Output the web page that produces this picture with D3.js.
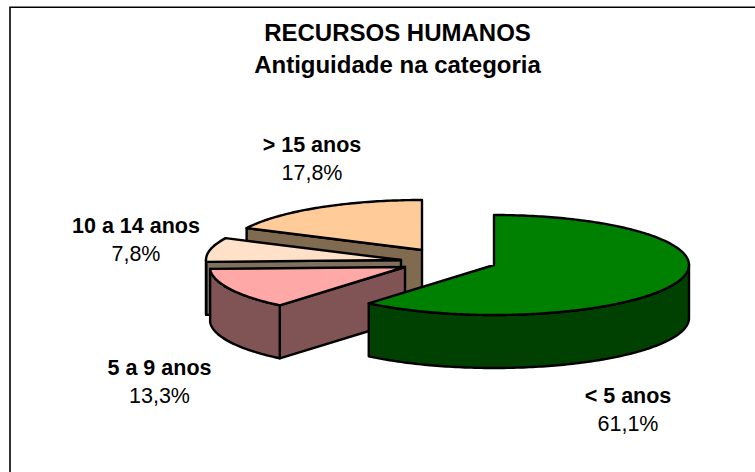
<!DOCTYPE html>
<html><head><meta charset="utf-8">
<script src="https://cdn.jsdelivr.net/npm/d3@7/dist/d3.min.js"></script>
<style>html,body{margin:0;padding:0;background:#fff}svg{display:block}text{font-family:"Liberation Sans",Arial,sans-serif;fill:#000}</style>
</head><body><svg id="c" width="755" height="472"></svg>
<script>
const categories = ["< 5 anos","5 a 9 anos","10 a 14 anos","> 15 anos"];
const values = [61.1,13.3,7.8,17.8];
const valueLabels = ["61,1%","13,3%","7,8%","17,8%"];
const topColors = ["#008000","#ffa8a8","#ffe0c8","#ffcc99"];
const wallColors = ["#004000","#805454","#807060","#806a50"];
const centers = [[494,265],[405,267],[401,260],[422,250]];
const labelPos = [[628,396],[159.5,368],[136,226],[312,145]];

const rx=195, ry=50, depth=53;
const svg=d3.select("#c");
svg.append("path").attr("d","M10,472V7.3H755").attr("fill","none").attr("stroke","#000").attr("stroke-width",1.6);

const title=svg.append("text").attr("text-anchor","middle").attr("font-weight","bold").attr("font-size",24);
title.append("tspan").attr("x",397.5).attr("y",41).text("RECURSOS HUMANOS");
title.append("tspan").attr("x",397.5).attr("y",72.5).text("Antiguidade na categoria");

const arcs=d3.pie().sort(null).value(d=>d)(values);
const pts=(a,c,dy=0)=>[c[0]+rx*Math.sin(a),c[1]-ry*Math.cos(a)+dy];
const line=d3.line().curve(d3.curveLinear);
const order=[3,2,1,0];
const g=svg.append("g").attr("stroke","#000").attr("stroke-width",2.4).attr("stroke-linejoin","round");
order.forEach(i=>{
  const a=arcs[i], c=centers[i];
  const face=t=>{const p=pts(t,c);return line([c,p,[p[0],p[1]+depth],[c[0],c[1]+depth]])+"Z";};
  if(Math.sin(a.startAngle)<-1e-6) g.append("path").attr("d",face(a.startAngle)).attr("fill",wallColors[i]);
  if(Math.sin(a.endAngle)>1e-6) g.append("path").attr("d",face(a.endAngle)).attr("fill",wallColors[i]);
  const n=Math.ceil((a.endAngle-a.startAngle)*60);
  const angs=d3.range(n+1).map(k=>a.startAngle+(a.endAngle-a.startAngle)*k/n);
  const vis=angs.filter(t=>Math.cos(t)<=0.02);
  if(vis.length>1){
    g.append("path").attr("d",line(vis.map(t=>pts(t,c)).concat(vis.slice().reverse().map(t=>pts(t,c,depth))))+"Z").attr("fill",wallColors[i]);
  }
  g.append("path").attr("d",line([c].concat(angs.map(t=>pts(t,c))))+"Z").attr("fill",topColors[i]);
});

categories.forEach((d,i)=>{
  const t=svg.append("text").attr("text-anchor","middle").attr("font-size",21.5);
  t.append("tspan").attr("x",labelPos[i][0]).attr("y",labelPos[i][1]+7).attr("font-weight","bold").text(d);
  t.append("tspan").attr("x",labelPos[i][0]).attr("y",labelPos[i][1]+35).text(valueLabels[i]);
});
</script></body></html>
